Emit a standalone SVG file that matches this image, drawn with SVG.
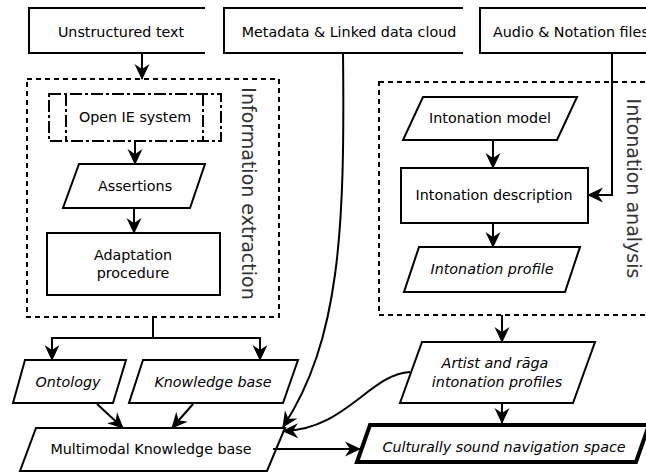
<svg xmlns="http://www.w3.org/2000/svg" width="646" height="473" viewBox="0 0 646 473">
<defs>
<marker id="ah" markerUnits="userSpaceOnUse" markerWidth="16" markerHeight="16" viewBox="0 0 16 16" refX="15" refY="8" orient="auto">
<path d="M0,0.5 L16,8 L0,15.5 L5,8 Z" fill="#000"/>
</marker>
<style>
.b{fill:#fff;stroke:#000;stroke-width:2}
.o{fill:none;stroke:#000;stroke-width:2}
.d{fill:none;stroke:#000;stroke-width:2;stroke-dasharray:5,4}
.dd{fill:none;stroke:#000;stroke-width:2;stroke-dasharray:12,3,3,3}
.c{fill:none;stroke:#000;stroke-width:2;marker-end:url(#ah)}
text{font-family:"DejaVu Sans","Liberation Sans",sans-serif;font-size:14.3px;fill:#000;text-anchor:middle}
.i{font-style:italic}
.v{font-size:19px;fill:#333}
</style>
</defs>
<rect width="646" height="473" fill="#fff"/>
<g id="unstructured"><path class="o" d="M205,8 H29 V53 H205"/><text x="121" y="37">Unstructured text</text></g>
<g id="metadata"><path class="o" d="M463,8 H224 V53 H463"/><text x="349" y="37">Metadata &amp; Linked data cloud</text></g>
<g id="audio"><path class="o" d="M646,8 H480 V53 H646"/><text x="493" y="37" style="text-anchor:start">Audio &amp; Notation files</text></g>
<g id="info-extraction"><rect class="d" x="27" y="79" width="252" height="238"/><text class="v" transform="translate(242,193.5) rotate(90)">Information extraction</text></g>
<g id="openie"><rect class="dd" x="49" y="94" width="172" height="47"/><path class="dd" d="M66,94 V141 M203,94 V141"/><text x="135" y="122">Open IE system</text></g>
<g id="assertions"><polygon class="b" points="79,164 205,164 190,208 63,208"/><text x="135" y="191">Assertions</text></g>
<g id="adaptation"><rect class="b" x="47" y="233" width="173" height="62"/><text x="133" y="260">Adaptation</text><text x="133" y="278">procedure</text></g>
<g id="intonation-analysis"><rect class="d" x="379" y="82" width="300" height="233"/><text class="v" transform="translate(627,188.5) rotate(90)">Intonation analysis</text></g>
<g id="model"><polygon class="b" points="423,97 577,97 557,140 403,140"/><text x="490" y="123">Intonation model</text></g>
<g id="description"><rect class="b" x="401" y="168" width="187" height="55"/><text x="494" y="200">Intonation description</text></g>
<g id="profile"><polygon class="b" points="419,247 580,247 565,292 404,292"/><text class="i" x="492" y="274">Intonation profile</text></g>
<g id="ontology"><polygon class="b" points="25,360 126,360 113,403 13,403"/><text class="i" x="68" y="387">Ontology</text></g>
<g id="kb"><polygon class="b" points="143,360 298,360 283,403 129,403"/><text class="i" x="213" y="387">Knowledge base</text></g>
<g id="mkb"><polygon class="b" points="36,428 285,428 267,471 20,471"/><text x="151" y="454">Multimodal Knowledge base</text></g>
<g id="artist"><polygon class="b" points="422,342 595,342 573,403 400,403"/><text class="i" x="495" y="368">Artist and rāga</text><text class="i" x="497" y="387">intonation profiles</text></g>
<g id="navigation"><polygon class="b" style="stroke-width:4" points="370,425 649,425 636,462 357,462"/><text class="i" x="504" y="452">Culturally sound navigation space</text></g>
<g id="connectors">
<path class="c" d="M142,53 V79"/>
<path class="c" d="M135,141 V164"/>
<path class="c" d="M134,208 V233"/>
<path class="c" d="M153,317 V338 H52 V360"/>
<path class="c" d="M153,338 H260 V360"/>
<path class="c" d="M97,404 L123,428"/>
<path class="c" d="M193,404 L172,428"/>
<path class="c" d="M343,53 C345,230 340,340 283,427"/>
<path class="c" d="M410,372 C370,374 345,430 283,431"/>
<path class="c" d="M612,53 V195 H588"/>
<path class="c" d="M493,140 V168"/>
<path class="c" d="M493,223 V247"/>
<path class="c" d="M502,315 V342"/>
<path class="c" d="M502,403 V423"/>
<path class="c" d="M273,449 H360"/>
</g>
</svg>
